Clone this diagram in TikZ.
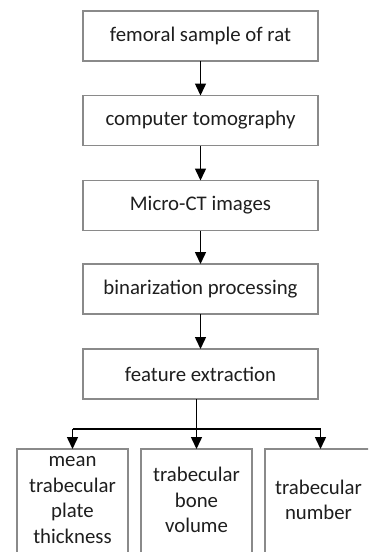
\documentclass[tikz,border=0pt]{standalone}
\usepackage{fontspec}
\setmainfont{Carlito}
\usetikzlibrary{arrows.meta}
\definecolor{boxgray}{HTML}{8A8A8A}
\definecolor{txt}{HTML}{1E1E1E}
\tikzset{
  stepbox/.style={draw=boxgray, line width=1.1pt, fill=white, rectangle,
    minimum width=235pt, minimum height=50pt, inner sep=0pt, outer sep=0pt,
    text=txt, font=\fontsize{20.8}{25.4}\selectfont},
  leafbox/.style={draw=boxgray, line width=1.1pt, fill=white, rectangle,
    minimum width=111pt, minimum height=105pt, inner sep=0pt, outer sep=0pt},
  leaftext/.style={text=txt, align=center, inner sep=0pt,
    font=\fontsize{20.8}{25.5}\selectfont},
  link/.style={line width=1.5pt, black},
  arr/.style={link, -{Triangle[length=12pt, width=11pt]}}
}
\begin{document}
\begin{tikzpicture}[x=1pt, y=-1pt]
\clip (0,0) rectangle (368,552);
\fill[white] (0,0) rectangle (368,552);
\node[stepbox] (a) at (200.5,36) {femoral sample of rat};
\node[stepbox] (b) at (200.5,120.5) {computer tomography};
\node[stepbox] (c) at (200.5,205.5) {Micro-CT images};
\node[stepbox] (d) at (200.5,289) {binarization processing};
\node[stepbox] (e) at (200.5,374) {feature extraction};
\node[leafbox] (l) at (72.5,501.5) {};
\node[leafbox] (m) at (196.5,501.5) {};
\node[leafbox] (r) at (320.5,501.5) {};
\node[leaftext] (lt) at (72.5,500) {mean\\trabecular\\plate\\thickness};
\node[leaftext] (mt) at (196.5,500) {trabecular\\bone\\volume};
\node[leaftext] (rt) at (318.5,500) {trabecular\\number};
\draw[arr] (a.south) -- (b.north);
\draw[arr] (b.south) -- (c.north);
\draw[arr] (c.south) -- (d.north);
\draw[arr] (d.south) -- (e.north);
\coordinate (bar) at (0,429);
\draw[link] (l.north |- bar) -- (r.north |- bar);
\draw[arr] (m.north |- e.south) -- (m.north);
\draw[arr] (l.north |- bar) -- (l.north);
\draw[arr] (r.north |- bar) -- (r.north);
\end{tikzpicture}
\end{document}
